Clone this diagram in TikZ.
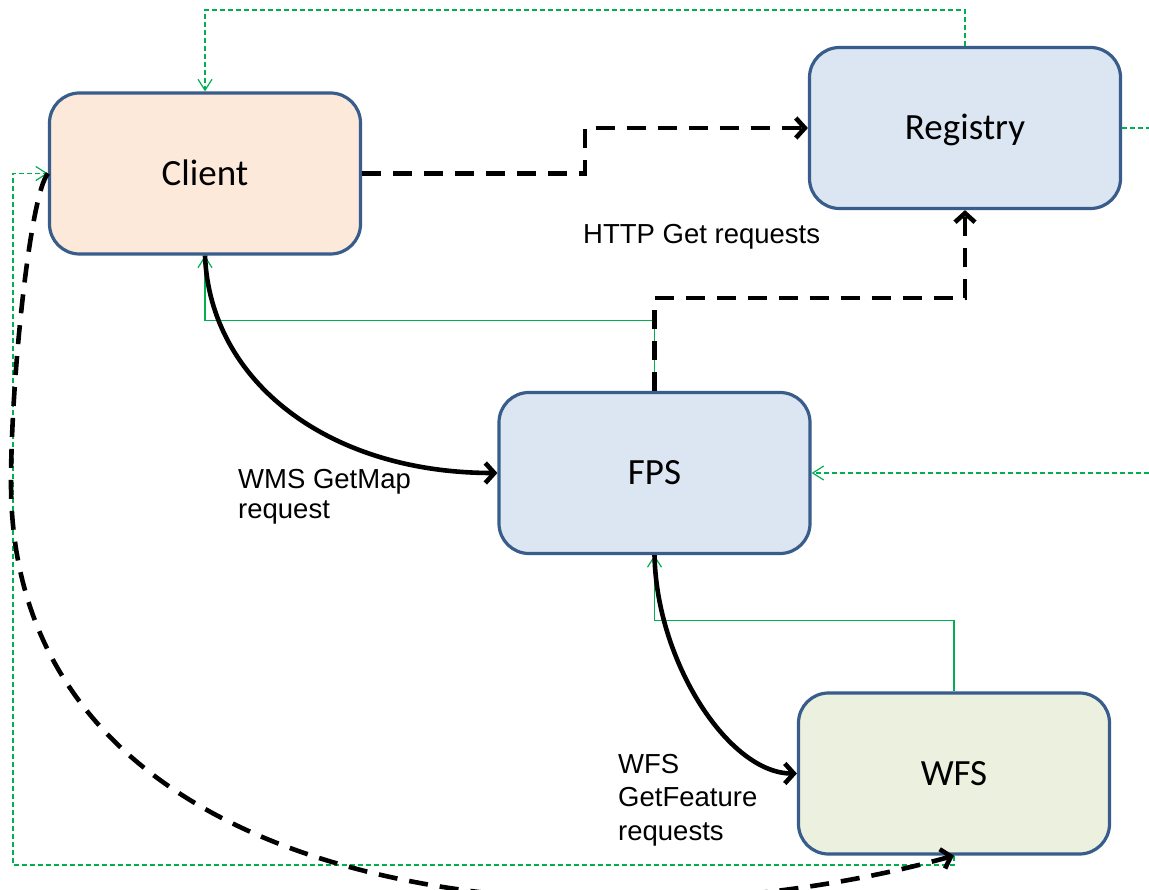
\documentclass[tikz,border=0pt]{standalone}
\usepackage{fontspec}
\setmainfont{Carlito}
\newfontfamily\arialfont{Liberation Sans}
\usetikzlibrary{arrows.meta}
\definecolor{boxborder}{RGB}{56,93,138}
\definecolor{clientfill}{RGB}{253,233,218}
\definecolor{bluefill}{RGB}{220,230,242}
\definecolor{greenfill}{RGB}{235,241,222}
\definecolor{linkgreen}{RGB}{0,176,80}
\begin{document}
\begin{tikzpicture}[x=1pt,y=-1pt,
  box/.style={draw=boxborder,line width=3.2pt,rounded corners=30pt,
    minimum width=311pt,minimum height=161pt,inner sep=0pt,
    font=\fontsize{37}{44}\selectfont,text height=24pt,text depth=0pt},
  lbl/.style={inner sep=0pt,align=left,anchor=base west},
  thickline/.style={line width=4.6pt,draw=black},
  bigdash/.style={thickline,dash pattern=on 19pt off 12pt},
  blackhead/.style={-{Straight Barb[length=9pt,width=20pt]}},
  greenline/.style={draw=linkgreen,line width=1.2pt},
  greendash/.style={greenline,line width=1.4pt,dash pattern=on 5pt off 3pt},
  greenhead/.style={-{Straight Barb[length=11pt,width=14pt,line width=1.2pt]}}
]
\fill[white] (0,0) rectangle (1149,890);
\useasboundingbox (0,0) rectangle (1149,890);

% boxes
\node[box,fill=clientfill] (client) at (205,173.5) {Client};
\node[box,fill=bluefill] (registry) at (965,128) {Registry};
\node[box,fill=bluefill] (fps) at (654.5,473) {FPS};
\node[box,fill=greenfill] (wfs) at (954,773.5) {WFS};

% labels (base anchor = baseline of last line)
\node[lbl,font=\arialfont\fontsize{27.5}{30}\selectfont] (lhttp) at (583,244) {HTTP Get requests};
\node[lbl,font=\arialfont\fontsize{27.5}{29}\selectfont] (lwms) at (238,518) {WMS GetMap\\request};
\node[lbl,font=\arialfont\fontsize{27.5}{33.5}\selectfont] (lwfs) at (618,840) {WFS\\GetFeature\\requests};

% helper coordinates
\coordinate (offtop) at (205,10);
\coordinate (offregright) at (1149,128);
\coordinate (offfpsright) at (1149,473);
\coordinate (leftrail) at (13,865);
\coordinate (mid1) at (585,128);
\coordinate (mid2) at (965,298);
\coordinate (lowleft) at (11,483);

% green links
\draw[greendash,greenhead] (registry.north) |- (offtop) -- (client.north);
\draw[greendash] (registry.east) -- (offregright);
\draw[greendash,greenhead] (offfpsright) -- (fps.east);
\draw[greendash,greenhead] (wfs.south) |- (leftrail) |- (client.west);
\draw[greenline,greenhead] (fps.north) -- ++(0,-70) -| (client.south);
\draw[greenline,greenhead] (wfs.north) -- ++(0,-71) -| (fps.south);

% black links
\draw[bigdash,blackhead] (client.east) -| (mid1) -- (registry.west);
\draw[bigdash,blackhead] (fps.north) |- (mid2) -- (registry.south);
\draw[thickline,blackhead] (client.south) .. controls +(5,126) and +(-169,0) .. (fps.west);
\draw[thickline,blackhead] (fps.south) .. controls +(2,107) and +(-68,0) .. (wfs.west);
\draw[bigdash,blackhead] (client.west) .. controls (30,195) and (11,380) .. (lowleft)
  .. controls (11,910) and (600,955) .. (wfs.south);
\end{tikzpicture}
\end{document}
